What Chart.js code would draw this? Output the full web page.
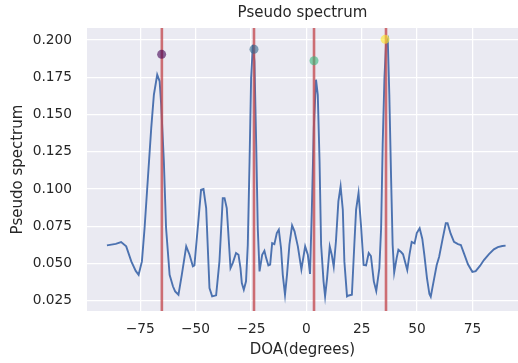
<!DOCTYPE html>
<html lang="en">
<head>
    <meta charset="UTF-8">
    <title>Pseudo spectrum</title>
    <script src="https://cdn.jsdelivr.net/npm/chart.js"></script>
    <style>
        body { margin: 0; background: #ffffff; overflow: hidden; }
        #chart { display: block; }
    </style>
</head>
<body>
    <canvas id="chart" width="518" height="363"></canvas>
    <script>
    // spectrum (degrees, value)
    const doa = [
        -90, -86, -83.6, -81.3, -79, -77, -75.7, -74.2, -73, -71.5, -70, -68.8, -67.3, -66.2,
        -65.5, -64.3, -63.3, -61.7, -60.2, -59.2, -57.7, -56.2, -54.2, -52.7, -51.2, -50.5,
        -49, -47.5, -46.4, -45.2, -43.7, -42.5, -40.7, -39.2, -37.7, -36.9, -35.9, -34.2,
        -33.2, -31.7, -30.6, -29.7, -29.1, -28.2, -27.2, -26.4, -25.6, -24.9, -24.1, -23.4,
        -22.6, -21.9, -21.1, -19.9, -18.9, -18.1, -17.1, -16.3, -15.4, -14.4, -13.3, -12.4,
        -11.4, -10.6, -9.6, -8.7, -7.6, -6.4, -5.3, -3.8, -2.2, -0.5, 0.7, 1.7, 2.5, 3.4,
        4.4, 5.2, 6.0, 6.7, 7.8, 8.5, 9.4, 10.6, 11.5, 12.4, 13.4, 14.5, 15.5, 16.5, 17.2,
        18.4, 19.2, 20.6, 21.7, 22.5, 23.6, 24.7, 25.9, 27.0, 28.2, 29.2, 30.5, 31.6, 33.0,
        33.8, 34.5, 35.3, 36.0, 36.8, 37.5, 38.3, 39.0, 39.7, 40.8, 41.6, 42.8, 43.7, 45.6,
        46.6, 47.6, 48.9, 49.9, 51.2, 52.4, 53.3, 54.5, 55.6, 56.2, 57.5, 58.9, 60.0, 61.5,
        63.0, 63.8, 65.2, 66.7, 68.5, 69.8, 71.2, 73.0, 75.0, 76.5, 78.5, 80.2, 82.5, 84.7,
        86.5, 88.5, 90
    ];
    const spectrum = [
        0.0622, 0.0632, 0.0644, 0.0615, 0.0514, 0.0450, 0.0424, 0.0514, 0.0738, 0.1074, 0.1409, 0.1633, 0.1767, 0.1723,
        0.1566, 0.1186, 0.0738, 0.0424, 0.0347, 0.0313, 0.0290, 0.0424, 0.0615, 0.0559, 0.0481, 0.0487,
        0.0738, 0.0995, 0.1000, 0.0872, 0.0335, 0.0279, 0.0286, 0.0514, 0.0939, 0.0939, 0.0872, 0.0469,
        0.0503, 0.0570, 0.0559, 0.0469, 0.0369, 0.0324, 0.0380, 0.0626, 0.1186, 0.1745, 0.1969, 0.1857,
        0.1297, 0.0738, 0.0447, 0.0559, 0.0585, 0.0536, 0.0487, 0.0492, 0.0637, 0.0630, 0.0704, 0.0727,
        0.0604, 0.0424, 0.0290, 0.0424, 0.0626, 0.0756, 0.0716, 0.0615, 0.0460, 0.0615, 0.0559, 0.0430, 0.0850, 0.1409,
        0.1734, 0.1633, 0.1186, 0.0626, 0.0380, 0.0280, 0.0402, 0.0615, 0.0559, 0.0478, 0.0649, 0.0917, 0.1018, 0.0861, 0.0514,
        0.0279, 0.0285, 0.0290, 0.0626, 0.0861, 0.0973, 0.0760, 0.0490, 0.0487, 0.0570, 0.0550, 0.0380, 0.0315, 0.0469,
        0.0738, 0.1297, 0.1745, 0.1969, 0.2002, 0.1633, 0.1074, 0.0626, 0.0440, 0.0536, 0.0592, 0.0577, 0.0562, 0.0456,
        0.0559, 0.0645, 0.0635, 0.0704, 0.0737, 0.0665, 0.0559, 0.0402, 0.0295, 0.0277, 0.0380, 0.0490, 0.0545, 0.0660,
        0.0770, 0.0770, 0.0700, 0.0646, 0.0630, 0.0624, 0.0568, 0.0495, 0.0444, 0.0449, 0.0485, 0.0523, 0.0563, 0.0595,
        0.0610, 0.0617, 0.0620
    ];

    // estimated peaks (dots) and true directions (red lines)
    const peakDoa = [-65.3, -23.6, 3.5, 35.6];
    const peakValue = [0.1904, 0.1938, 0.1861, 0.2005];
    const peakColors = ['rgba(68,1,84,0.6)', 'rgba(49,104,142,0.6)', 'rgba(53,183,121,0.6)', 'rgba(253,231,37,0.6)'];
    const trueDoa = [-65.2, -23.6, 3.5, 36.0];

    const xTicks = [-75, -50, -25, 0, 25, 50, 75];
    const yTicks = [0.025, 0.050, 0.075, 0.100, 0.125, 0.150, 0.175, 0.200];
    const xMin = -99, xMax = 95.6;
    const yMin = 0.0181, yMax = 0.2081;

    const textColor = '#262626';
    const fontFamily = '"DejaVu Sans", sans-serif';

    const plotBackground = {
        id: 'plotBackground',
        beforeDraw(chart) {
            const a = chart.chartArea;
            const ctx = chart.ctx;
            ctx.save();
            ctx.fillStyle = '#EAEAF2';
            ctx.fillRect(a.left, a.top, a.right - a.left, a.bottom - a.top);
            ctx.restore();
        }
    };

    const datasets = [];
    datasets.push({
        type: 'scatter',
        data: peakDoa.map((d, i) => ({ x: d, y: peakValue[i] })),
        backgroundColor: peakColors,
        borderWidth: 0,
        pointRadius: 4.5
    });
    trueDoa.forEach(d => {
        datasets.push({
            type: 'line',
            data: [{ x: d, y: yMin }, { x: d, y: yMax }],
            borderColor: 'rgba(196,78,82,0.8)',
            borderWidth: 2.6,
            pointRadius: 0
        });
    });
    datasets.push({
        type: 'line',
        data: doa.map((d, i) => ({ x: d, y: spectrum[i] })),
        borderColor: '#4C72B0',
        borderWidth: 1.9,
        pointRadius: 0,
        tension: 0
    });

    new Chart(document.getElementById('chart'), {
        data: { datasets: datasets },
        plugins: [plotBackground],
        options: {
            responsive: false,
            animation: false,
            devicePixelRatio: 1,
            layout: { padding: 0, autoPadding: false },
            plugins: {
                legend: { display: false },
                tooltip: { enabled: false },
                title: {
                    display: true,
                    fullSize: false,
                    text: 'Pseudo spectrum',
                    color: textColor,
                    font: { family: fontFamily, size: 15, weight: 'normal' },
                    padding: { top: 4, bottom: 6 }
                }
            },
            scales: {
                x: {
                    type: 'linear',
                    min: xMin,
                    max: xMax,
                    afterBuildTicks: axis => { axis.ticks = xTicks.map(v => ({ value: v })); },
                    afterFit: axis => { axis.height = 52; },
                    grid: { color: '#ffffff', lineWidth: 1.25, drawTicks: false },
                    border: { display: false },
                    ticks: {
                        color: textColor,
                        padding: 10,
                        font: { family: fontFamily, size: 13.75 },
                        callback: v => String(v).replace('-', '\u2212')
                    },
                    title: {
                        display: true,
                        text: 'DOA(degrees)',
                        color: textColor,
                        font: { family: fontFamily, size: 15 },
                        padding: { top: 0, bottom: 3.5 }
                    }
                },
                y: {
                    min: yMin,
                    max: yMax,
                    afterBuildTicks: axis => { axis.ticks = yTicks.map(v => ({ value: v })); },
                    afterFit: axis => { axis.width = 87; },
                    grid: { color: '#ffffff', lineWidth: 1.25, drawTicks: false },
                    border: { display: false },
                    ticks: {
                        color: textColor,
                        padding: 15,
                        font: { family: fontFamily, size: 13.75 },
                        callback: v => v.toFixed(3)
                    },
                    title: {
                        display: true,
                        text: 'Pseudo spectrum',
                        color: textColor,
                        font: { family: fontFamily, size: 15 },
                        padding: { top: 9, bottom: 0 }
                    }
                }
            }
        }
    });
    </script>
</body>
</html>
